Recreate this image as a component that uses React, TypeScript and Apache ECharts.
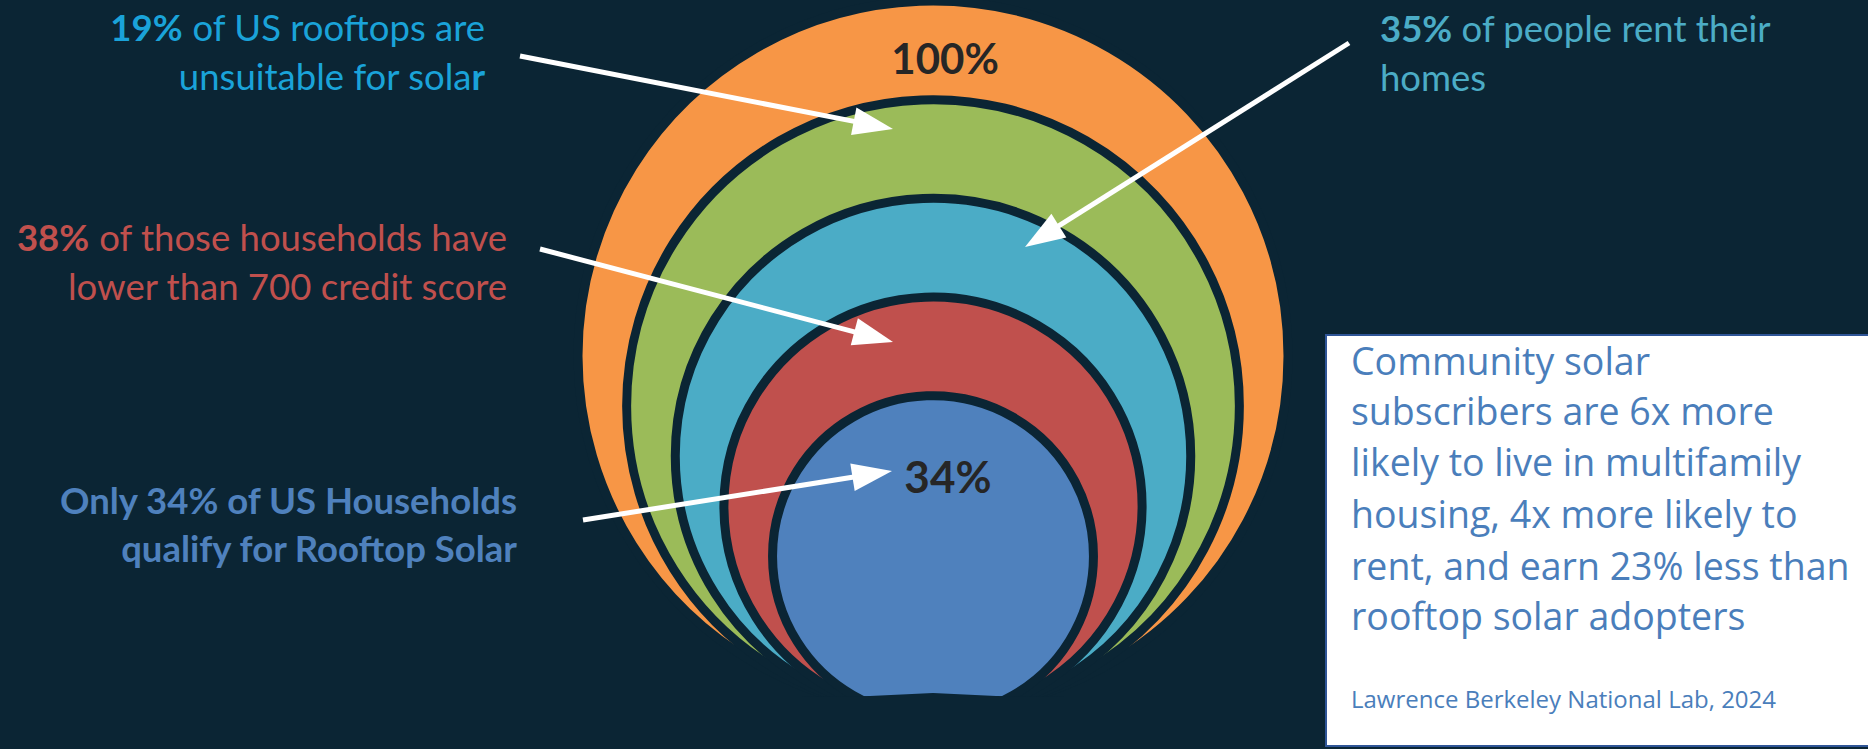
import React, { useEffect, useRef } from "react";
import * as echarts from "echarts";

// ---------- data ----------
const layerNames = [
  "All US households",
  "Suitable rooftops",
  "Homeowners",
  "Credit score 700+",
  "Qualify for rooftop solar",
];
const layerLabels = ["100%", "", "", "", "34%"];

const unsuitableShare = "19%";
const renterShare = "35%";
const lowCreditShare = "38%";

const calloutUnsuitable = ["of US rooftops are", "unsuitable for sola", "r"];
const calloutRent = ["of people rent their", "homes"];
const calloutCredit = ["of those households have", "lower than 700 credit score"];
const calloutQualify = ["Only 34% of US Households", "qualify for Rooftop Solar"];

const boxLines = [
  "Community solar",
  "subscribers are 6x more",
  "likely to live in multifamily",
  "housing, 4x more likely to",
  "rent, and earn 23% less than",
  "rooftop solar adopters",
];
const sourceText = "Lawrence Berkeley National Lab, 2024";

// ---------- styles / layout ----------
const BG = "#0b2534";
const layerColors = ["#f79646", "#9bbb59", "#4bacc6", "#c0504d", "#4f81bd"];
const W = 1868;
const H = 749;
const K = 3.55; // px per unit
const CX = 933;
const CY = 356;
const R0 = 100;
const STEP_R = 13.7;
const STEP_C = 14.1;
const labelPos: (number[] | null)[] = [[3.4, 83.9], null, null, null, [4.2, -33.8]];
const labelSize = [42, 0, 0, 0, 44];
const CALLOUT_SIZE = 36.5;

const LATO = "Lato, 'Open Sans', sans-serif";
const OPEN = "'Open Sans', Lato, sans-serif";

function arrowEls(a: number[]) {
  const [x1, y1, x2, y2] = a;
  const dx = x2 - x1, dy = y2 - y1;
  const L = Math.hypot(dx, dy);
  const ux = dx / L, uy = dy / L;
  const hl = 40, hw = 14;
  const bx = x2 - ux * hl, by = y2 - uy * hl;
  return [
    {
      type: "line",
      z: 50,
      shape: { x1, y1, x2: bx + ux * 3, y2: by + uy * 3 },
      style: { stroke: "#ffffff", lineWidth: 5 },
    },
    {
      type: "polygon",
      z: 50,
      shape: {
        points: [
          [x2, y2],
          [bx - uy * hw, by + ux * hw],
          [bx + uy * hw, by - ux * hw],
        ],
      },
      style: { fill: "#ffffff" },
    },
  ];
}

const ARROWS = [
  [520, 56, 893, 129],
  [1349, 43, 1025, 247],
  [540, 249, 893, 342],
  [583, 520, 892, 471],
];

function richLine(x: number, y: number, text: string, color: string, align: string, size = CALLOUT_SIZE) {
  return {
    type: "text",
    z: 60,
    x,
    y,
    style: {
      text,
      fill: color,
      fontFamily: LATO,
      fontSize: size,
      textAlign: align,
      align,
      textVerticalAlign: "middle",
      verticalAlign: "middle",
      rich: {
        b: { fontFamily: LATO, fontSize: size, fontWeight: "bold", fill: color },
        n: { fontFamily: LATO, fontSize: size, fontWeight: "normal", fill: color },
      },
    },
  };
}

function plainText(x: number, y: number, text: string, color: string, align: string, size: number, family: string, weight = "normal") {
  return {
    type: "text",
    z: 60,
    x,
    y,
    style: {
      text,
      fill: color,
      fontFamily: family,
      fontSize: size,
      fontWeight: weight,
      textAlign: align,
      align,
      textVerticalAlign: "middle",
      verticalAlign: "middle",
    },
  };
}

export default function App() {
  const ref = useRef<HTMLDivElement>(null);
  useEffect(() => {
    const chart = echarts.init(ref.current!, null, { renderer: "svg" });
    const graphics: any[] = [];
    // bottom mask (flattened base of the innermost disc)
    graphics.push({
      type: "polygon",
      z: 40,
      shape: {
        points: [
          [800, 697], [870, 696], [933, 693], [996, 696], [1066, 697], [1066, H], [800, H],
        ],
      },
      style: { fill: BG },
    });
    ARROWS.forEach((a) => graphics.push(...arrowEls(a)));

    const blueBright = "#1aa3d9";
    graphics.push(richLine(485, 27, `{b|${unsuitableShare}}{n| ${calloutUnsuitable[0]}}`, blueBright, "right"));
    graphics.push(richLine(485, 76, `{n|${calloutUnsuitable[1]}}{b|${calloutUnsuitable[2]}}`, blueBright, "right"));
    graphics.push(richLine(1380, 28, `{b|${renterShare}}{n| ${calloutRent[0]}}`, "#4bacc6", "left"));
    graphics.push(richLine(1380, 77, `{n|${calloutRent[1]}}`, "#4bacc6", "left"));
    graphics.push(richLine(507, 237, `{b|${lowCreditShare}}{n| ${calloutCredit[0]}}`, "#c0504d", "right"));
    graphics.push(richLine(507, 286, `{n|${calloutCredit[1]}}`, "#c0504d", "right"));
    graphics.push(plainText(517, 500, calloutQualify[0], "#4f81bd", "right", CALLOUT_SIZE, LATO, "bold"));
    graphics.push(plainText(517, 548, calloutQualify[1], "#4f81bd", "right", CALLOUT_SIZE, LATO, "bold"));

    // info box
    graphics.push({
      type: "rect",
      z: 55,
      shape: { x: 1326, y: 335, width: 600, height: 411 },
      style: { fill: "#ffffff", stroke: "#2f5597", lineWidth: 2 },
    });
    const boxBase = [372, 422, 473, 525, 577, 627];
    boxLines.forEach((t, i) => {
      graphics.push(plainText(1351, boxBase[i] - 12, t, "#4a7ebb", "left", 37.5, OPEN));
    });
    graphics.push(plainText(1351, 698, sourceText, "#4a7ebb", "left", 24, OPEN));

    const option: any = {
      animation: false,
      backgroundColor: BG,
      grid: { left: 0, right: 0, top: 0, bottom: 0 },
      xAxis: { type: "value", min: -CX / K, max: (W - CX) / K, show: false },
      yAxis: { type: "value", min: -(H - CY) / K, max: CY / K, show: false },
      series: [
        {
          type: "custom",
          coordinateSystem: "cartesian2d",
          clip: false,
          data: layerNames.map((n, i) => ({ name: n, value: [0, -STEP_C * i, R0 - STEP_R * i] })),
          encode: { x: 0, y: 1 },
          renderItem: (params: any, api: any) => {
            const i = params.dataIndex;
            const cyU = api.value(1);
            const rU = api.value(2);
            const c = api.coord([0, cyU]);
            const rPx = api.size([rU, rU])[0];
            const children: any[] = [
              {
                type: "circle",
                shape: { cx: c[0], cy: c[1], r: rPx },
                style: { fill: layerColors[i], stroke: BG, lineWidth: 9 },
              },
            ];
            const lp = labelPos[i];
            if (lp && layerLabels[i]) {
              const p = api.coord(lp);
              children.push({
                type: "text",
                x: p[0],
                y: p[1],
                style: {
                  text: layerLabels[i],
                  fill: "#262626",
                  fontFamily: LATO,
                  fontWeight: "bold",
                  fontSize: labelSize[i],
                  textAlign: "center",
                  align: "center",
                  textVerticalAlign: "middle",
                  verticalAlign: "middle",
                },
              });
            }
            return { type: "group", children };
          },
        },
      ],
      graphic: { elements: graphics },
    };
    chart.setOption(option);
    return () => chart.dispose();
  }, []);
  return (
    <div
      ref={ref}
      style={{ position: "fixed", left: 0, top: 0, width: W, height: H }}
    />
  );
}
